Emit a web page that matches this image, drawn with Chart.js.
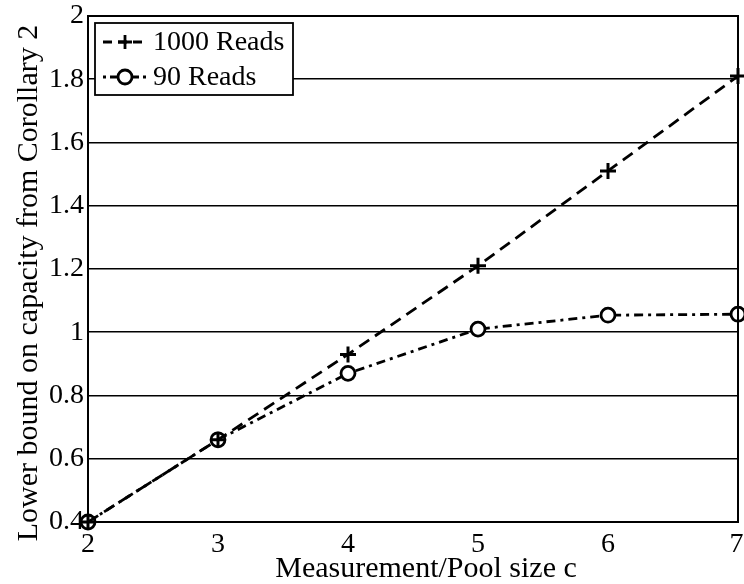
<!DOCTYPE html>
<html>
<head>
<meta charset="utf-8">
<script src="https://cdn.jsdelivr.net/npm/chart.js@4"></script>
<style>
  html, body { margin: 0; padding: 0; background: #fff; }
  #wrap { width: 744px; height: 584px; }
</style>
</head>
<body>
<div id="wrap"><canvas id="c" width="744" height="584"></canvas></div>
<script>
const poolSizes = [2, 3, 4, 5, 6, 7];
const reads1000 = [0.40, 0.66, 0.93, 1.21, 1.51, 1.81];
const reads90 = [0.40, 0.66, 0.87, 1.01, 1.054, 1.057];
const seriesNames = ['1000 Reads', '90 Reads'];
const xTicks = [2, 3, 4, 5, 6, 7];
const yTicks = [0.4, 0.6, 0.8, 1, 1.2, 1.4, 1.6, 1.8, 2];
const xTitle = 'Measurement/Pool size c';
const yTitle = 'Lower bound on capacity from Corollary 2';

const FONT = "'Liberation Serif', 'Times New Roman', serif";
const dashA = [12, 7];
const dashB = [9, 5, 3, 5];

const boxPlugin = {
  id: 'boxAndLegend',
  afterDraw(chart) {
    const { ctx, chartArea: a } = chart;
    const xs = chart.scales.x;
    ctx.save();
    ctx.strokeStyle = '#000';
    ctx.lineWidth = 2;
    ctx.strokeRect(a.left, a.top, a.right - a.left, a.bottom - a.top);
    // x tick labels (positions from the library's x scale)
    ctx.fillStyle = '#000';
    ctx.font = '28px ' + FONT;
    ctx.textAlign = 'center';
    ctx.textBaseline = 'alphabetic';
    xTicks.forEach(v => {
      const label = String(v);
      const half = ctx.measureText(label).width / 2;
      const px = Math.min(xs.getPixelForValue(v), chart.width - half - 0.5);
      ctx.fillText(label, px, a.bottom + 30);
    });
    // axis titles
    ctx.font = '30px ' + FONT;
    ctx.fillText(xTitle, 426, 577);
    ctx.save();
    ctx.translate(37, 283);
    ctx.rotate(-Math.PI / 2);
    ctx.fillText(yTitle, 0, 0);
    ctx.restore();
    // legend box
    const lx = a.left + 7, ly = a.top + 7, lw = 198, lh = 72;
    ctx.fillStyle = '#fff';
    ctx.fillRect(lx, ly, lw, lh);
    ctx.lineWidth = 1.8;
    ctx.strokeRect(lx, ly, lw, lh);
    const rows = [
      { y: ly + 19, dash: [9, 6], marker: 'cross' },
      { y: ly + 54, dash: [3, 4, 9, 4], marker: 'circle' }
    ];
    rows.forEach((r, i) => {
      const x0 = lx + 8, x1 = lx + 52, xm = (x0 + x1) / 2;
      ctx.setLineDash(r.dash);
      ctx.lineWidth = 2.8;
      ctx.beginPath();
      ctx.moveTo(x0, r.y); ctx.lineTo(x1, r.y); ctx.stroke();
      ctx.setLineDash([]);
      ctx.lineWidth = 2.8;
      if (r.marker === 'cross') {
        ctx.beginPath();
        ctx.moveTo(xm - 7, r.y); ctx.lineTo(xm + 7, r.y);
        ctx.moveTo(xm, r.y - 7); ctx.lineTo(xm, r.y + 7);
        ctx.stroke();
      } else {
        ctx.beginPath();
        ctx.arc(xm, r.y, 7, 0, Math.PI * 2);
        ctx.fillStyle = '#fff'; ctx.fill(); ctx.stroke();
      }
      ctx.fillStyle = '#000';
      ctx.font = '28px ' + FONT;
      ctx.textBaseline = 'middle';
      ctx.textAlign = 'left';
      ctx.fillText(seriesNames[i], x1 + 6, r.y + 1);
    });
    ctx.restore();
  }
};

new Chart(document.getElementById('c'), {
  type: 'line',
  data: {
    datasets: [
      {
        label: seriesNames[0],
        data: poolSizes.map((x, i) => ({ x, y: reads1000[i] })),
        borderColor: '#000', borderWidth: 2.8, borderDash: dashA,
        pointStyle: 'cross', pointRadius: 8, pointBorderWidth: 3,
        pointBorderColor: '#000', pointBackgroundColor: '#000',
        fill: false, tension: 0, clip: false
      },
      {
        label: seriesNames[1],
        data: poolSizes.map((x, i) => ({ x, y: reads90[i] })),
        borderColor: '#000', borderWidth: 2.8, borderDash: dashB,
        pointStyle: 'circle', pointRadius: 7, pointBorderWidth: 2.8,
        pointBorderColor: '#000', pointBackgroundColor: '#fff',
        fill: false, tension: 0, clip: false
      }
    ]
  },
  options: {
    responsive: false,
    animation: false,
    devicePixelRatio: 1,
    layout: { autoPadding: false, padding: { top: 16, right: 6, left: 0, bottom: 0 } },
    plugins: { legend: { display: false }, tooltip: { enabled: false } },
    scales: {
      x: {
        type: 'linear', min: 2, max: 7,
        afterFit(s) { s.height = 62; s.paddingRight = 0; s.paddingLeft = 0; },
        ticks: { display: false, stepSize: 1 },
        grid: { display: false, drawTicks: false },
        border: { display: false }
      },
      y: {
        type: 'linear', min: 0.4, max: 2,
        afterFit(s) { s.width = 88; s.paddingTop = 0; s.paddingBottom = 0; },
        afterBuildTicks(s) { s.ticks = yTicks.map(v => ({ value: v })); },
        ticks: {
          color: '#000', font: { family: FONT, size: 28 }, padding: 4,
          callback: v => String(Number(Number(v).toFixed(1)))
        },
        grid: { color: '#000', lineWidth: 1.6, drawTicks: false },
        border: { display: false }
      }
    }
  },
  plugins: [boxPlugin]
});
</script>
</body>
</html>
